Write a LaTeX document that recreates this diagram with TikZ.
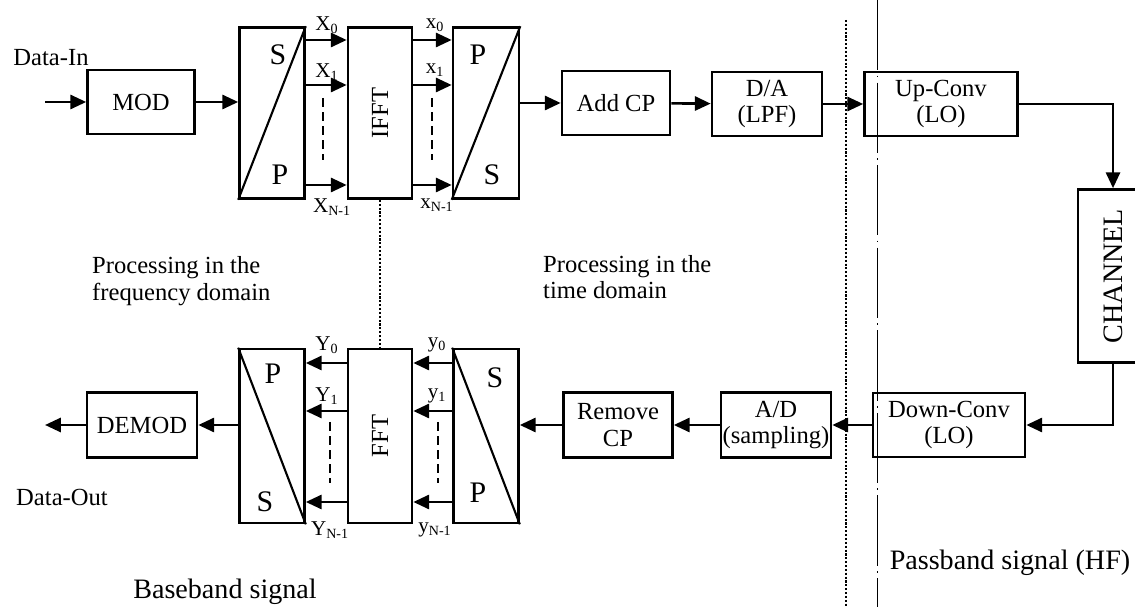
\documentclass[tikz,border=0pt]{standalone}
\usepackage{fontspec}
\setmainfont{Liberation Serif}
\usetikzlibrary{arrows.meta}

\begin{document}
\begin{tikzpicture}[>={Triangle[length=9pt,width=8pt]},x=0.02cm,y=-0.02cm,font=\fontsize{14}{15}\selectfont]
  \tikzset{box/.style={draw, line width=1.5pt, inner sep=0pt, align=center, minimum height=1.28cm},
    tall/.style={box, minimum width=1.3cm, minimum height=3.42cm},
    sig/.style={->, line width=1.5pt},
    lbl/.style={font=\fontsize{12}{13}\selectfont, inner sep=0pt},
    let/.style={font=\fontsize{17}{18}\selectfont, inner sep=0pt},
    big/.style={font=\fontsize{16}{17}\selectfont},
    dots/.style={line width=1.6pt, dash pattern=on 1.2pt off 1pt}}
  \useasboundingbox (0,0) rectangle (1135,607);
  % transmitter chain
  \node[box, minimum width=2.14cm] (mod) at (141,102) {MOD};
  \node[tall] (sp1) at (272,113) {};
  \node[tall, minimum width=1.28cm] (ifft) at (380,113) {\rotatebox{90}{IFFT}};
  \node[tall, minimum width=1.32cm] (ps1) at (486,113) {};
  \node[box, minimum width=2.16cm] (addcp) at (616,103) {Add CP};
  \node[box, minimum width=2.2cm] (da) at (767,104) {D/A\\(LPF)};
  \node[box, minimum width=3.06cm] (up) at (941,104) {Up-Conv\\(LO)};
  \node[box, minimum width=1.4cm, minimum height=3.46cm] (chan) at (1113,276) {\rotatebox{90}{\fontsize{16}{17}\selectfont CHANNEL}};
  % receiver chain
  \node[box, minimum width=3.04cm] (down) at (949,425) {Down-Conv\\(LO)};
  \node[box, minimum width=2.2cm, minimum height=1.3cm] (ad) at (776,425) {A/D\\(sampling)};
  \node[box, minimum width=2.18cm, minimum height=1.3cm] (rmcp) at (618,425) {Remove\\CP};
  \node[tall, minimum height=3.48cm] (sp2) at (486,436) {};
  \node[tall, minimum width=1.28cm, minimum height=3.48cm] (fft) at (380,436) {\rotatebox{90}{FFT}};
  \node[tall, minimum height=3.48cm] (ps2) at (272,436) {};
  \node[box, minimum width=2.2cm, minimum height=1.3cm] (demod) at (142,425) {DEMOD};

  % converter diagonals and letters
  \draw[line width=1.2pt] (sp1.south west) -- (sp1.north east);
  \draw[line width=1.2pt] (ps1.south west) -- (ps1.north east);
  \draw[line width=1.2pt] (sp2.north west) -- (sp2.south east);
  \draw[line width=1.2pt] (ps2.north west) -- (ps2.south east);
  \node[let] (sp1s) at (278,55) {S};
  \node[let] (sp1p) at (280,175) {P};
  \node[let] (ps1p) at (478,55) {P};
  \node[let] (ps1s) at (492,175) {S};
  \node[let] (sp2s) at (495,378) {S};
  \node[let] (sp2p) at (478,493) {P};
  \node[let] (ps2p) at (273,374) {P};
  \node[let] (ps2s) at (265,502) {S};

  % parallel branches
  \foreach \yy in {40,85,185} {
    \draw[sig] (sp1.east |- 0,\yy) -- (ifft.west |- 0,\yy);
    \draw[sig] (ifft.east |- 0,\yy) -- (ps1.west |- 0,\yy);
  }
  \foreach \yy in {363,411,502} {
    \draw[sig] (sp2.west |- 0,\yy) -- (fft.east |- 0,\yy);
    \draw[sig] (fft.west |- 0,\yy) -- (ps2.east |- 0,\yy);
  }
  \draw[line width=1.2pt, dash pattern=on 5pt off 3pt] (323,98) -- (323,160);
  \draw[line width=1.2pt, dash pattern=on 5pt off 3pt] (432,98) -- (432,160);
  \draw[line width=1.2pt, dash pattern=on 5pt off 3pt] (330,422) -- (330,483);
  \draw[line width=1.2pt, dash pattern=on 5pt off 3pt] (438,422) -- (438,483);
  \node[lbl] (X0) at (327,25) {X\textsubscript{0}};
  \node[lbl] (X1) at (327,72) {X\textsubscript{1}};
  \node[lbl] (XN) at (332,207) {X\textsubscript{N-1}};
  \node[lbl] (x0) at (435,25) {x\textsubscript{0}};
  \node[lbl] (x1) at (435,70) {x\textsubscript{1}};
  \node[lbl] (xN) at (437,205) {x\textsubscript{N-1}};
  \node[lbl] (Y0) at (327,345) {Y\textsubscript{0}};
  \node[lbl] (Y1) at (327,396) {Y\textsubscript{1}};
  \node[lbl] (YN) at (330,530) {Y\textsubscript{N-1}};
  \node[lbl] (y0) at (437,345) {y\textsubscript{0}};
  \node[lbl] (y1) at (437,396) {y\textsubscript{1}};
  \node[lbl] (yN) at (435,530) {y\textsubscript{N-1}};

  % signal flow
  \coordinate (in) at (45,102);
  \coordinate (out) at (45,425);
  \draw[sig] (in) -- (mod);
  \draw[sig] (mod) -- (mod -| sp1.west);
  \draw[sig] (ps1.east |- addcp) -- (addcp);
  \draw[sig] (addcp) -- (da);
  \draw[sig] (da) -- (up);
  \draw[sig] (up) -| (chan);
  \draw[sig] (chan) |- (down);
  \draw[sig] (down) -- (ad);
  \draw[sig] (ad) -- (rmcp);
  \draw[sig] (rmcp) -- (rmcp -| sp2.east);
  \draw[sig] (demod -| ps2.west) -- (demod);
  \draw[sig] (demod) -- (out);
  \draw[dots] (ifft) -- (fft);

  % domain borders
  \draw[dots] (846,20) -- (846,607);
  \draw[line width=0.5pt, dash pattern=on 40pt off 3pt on 1pt off 3pt] (877,0) -- (877,607);

  % texts
  \node (datain) at (51,58) {Data-In};
  \node (dataout) at (62,497) {Data-Out};
  \node[anchor=west, align=left] (freq) at (86,281) {Processing in the\\frequency domain};
  \node[anchor=west, align=left] (time) at (537,277) {Processing in the\\time domain};
  \node[big] (base) at (225,592) {Baseband signal};
  \node[big] (pass) at (1010,563) {Passband signal (HF)};
\end{tikzpicture}
\end{document}
